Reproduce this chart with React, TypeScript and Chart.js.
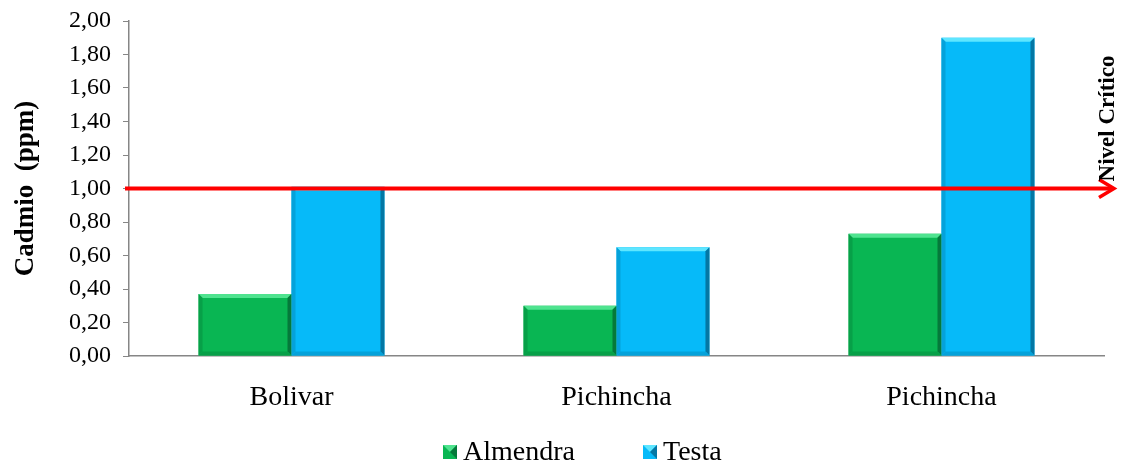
import React, { useEffect, useRef } from "react";
import { Chart, registerables } from "chart.js";

Chart.register(...registerables);

const categories = ["Bolivar", "Pichincha", "Pichincha"];
const almendra = [0.37, 0.3, 0.73];
const testa = [1.01, 0.65, 1.9];
const seriesNames = ["Almendra", "Testa"];
const criticalLevel = 1.0;
const criticalLabel = "Nivel Crítico";
const yTitle = "Cadmio  (ppm)";

const FONT = "'Liberation Serif', 'Times New Roman', serif";

const palette = [
  { face: "#09b653", light: "#4fe38f", dark: "#05793a", side: "#07a048" },
  { face: "#06baf9", light: "#5ee6ff", dark: "#0477a4", side: "#05a2da" },
];

const bevelPlugin = {
  id: "bevel",
  afterDatasetsDraw(chart: any) {
    const ctx = chart.ctx;
    chart.data.datasets.forEach((_ds: any, di: number) => {
      const meta = chart.getDatasetMeta(di);
      const c = palette[di];
      meta.data.forEach((bar: any) => {
        const w = bar.width;
        const l = bar.x - w / 2;
        const r = bar.x + w / 2;
        const t = bar.y;
        const b = bar.base;
        const s = 4;
        ctx.save();
        ctx.fillStyle = c.light;
        ctx.beginPath();
        ctx.moveTo(l, t);
        ctx.lineTo(r, t);
        ctx.lineTo(r - s, t + s);
        ctx.lineTo(l + s, t + s);
        ctx.closePath();
        ctx.fill();
        ctx.fillStyle = c.dark;
        ctx.beginPath();
        ctx.moveTo(r, t);
        ctx.lineTo(r, b);
        ctx.lineTo(r - s, b - s);
        ctx.lineTo(r - s, t + s);
        ctx.closePath();
        ctx.fill();
        ctx.fillStyle = c.side;
        ctx.beginPath();
        ctx.moveTo(l, t);
        ctx.lineTo(l + s, t + s);
        ctx.lineTo(l + s, b - s);
        ctx.lineTo(l, b);
        ctx.closePath();
        ctx.fill();
        ctx.fillStyle = c.side;
        ctx.beginPath();
        ctx.moveTo(l, b);
        ctx.lineTo(l + s, b - s);
        ctx.lineTo(r - s, b - s);
        ctx.lineTo(r, b);
        ctx.closePath();
        ctx.fill();
        ctx.restore();
      });
    });
  },
};

const criticalPlugin = {
  id: "critical",
  afterDraw(chart: any) {
    const ctx = chart.ctx;
    const y = chart.scales.y.getPixelForValue(criticalLevel);
    const x0 = chart.chartArea.left - 4;
    const x1 = chart.chartArea.right + 10;
    ctx.save();
    ctx.strokeStyle = "#ff0000";
    ctx.lineWidth = 4;
    ctx.lineCap = "butt";
    ctx.beginPath();
    ctx.moveTo(x0, y);
    ctx.lineTo(x1 - 2, y);
    ctx.stroke();
    ctx.lineJoin = "miter";
    ctx.lineWidth = 3.5;
    ctx.beginPath();
    ctx.moveTo(x1 - 15, y - 9);
    ctx.lineTo(x1, y);
    ctx.lineTo(x1 - 15, y + 9);
    ctx.stroke();
    ctx.translate(chart.chartArea.right + 4, y - 70);
    ctx.rotate(-Math.PI / 2);
    ctx.fillStyle = "#000";
    ctx.font = `bold 23px ${FONT}`;
    ctx.textAlign = "center";
    ctx.textBaseline = "middle";
    ctx.fillText(criticalLabel, 0, 0);
    ctx.restore();
  },
};

const legendPlugin = {
  id: "customLegend",
  afterDraw(chart: any) {
    const ctx = chart.ctx;
    const xs = [443, 643];
    const y = 452;
    ctx.save();
    ctx.font = `28px ${FONT}`;
    ctx.textBaseline = "middle";
    ctx.textAlign = "left";
    seriesNames.forEach((name, i) => {
      const c = palette[i];
      const x = xs[i];
      const sz = 14;
      ctx.fillStyle = c.face;
      ctx.fillRect(x, y - sz / 2, sz, sz);
      ctx.fillStyle = c.light;
      ctx.beginPath();
      ctx.moveTo(x, y - sz / 2);
      ctx.lineTo(x + sz, y - sz / 2);
      ctx.lineTo(x + sz / 2, y);
      ctx.closePath();
      ctx.fill();
      ctx.fillStyle = c.dark;
      ctx.beginPath();
      ctx.moveTo(x + sz, y - sz / 2);
      ctx.lineTo(x + sz, y + sz / 2);
      ctx.lineTo(x + sz / 2, y);
      ctx.closePath();
      ctx.fill();
      ctx.fillStyle = "#000";
      ctx.fillText(name, x + 20, y + 1);
    });
    ctx.restore();
  },
};

export default function App() {
  const ref = useRef<HTMLCanvasElement>(null);

  useEffect(() => {
    if (!ref.current) return;
    const chart = new Chart(ref.current, {
      type: "bar",
      data: {
        labels: categories,
        datasets: [
          {
            label: seriesNames[0],
            data: almendra,
            backgroundColor: palette[0].face,
            borderWidth: 0,
          },
          {
            label: seriesNames[1],
            data: testa,
            backgroundColor: palette[1].face,
            borderWidth: 0,
          },
        ],
      },
      options: {
        responsive: false,
        animation: false,
        layout: { padding: { top: 21, right: 17, left: 0, bottom: 0 } },
        datasets: {
          bar: { categoryPercentage: 0.572, barPercentage: 1.0 },
        },
        plugins: {
          legend: { display: false },
          tooltip: { enabled: false },
        },
        scales: {
          x: {
            grid: { display: false, drawTicks: false },
            border: { display: true, color: "#868686", width: 1.5 },
            ticks: {
              color: "#000",
              font: { family: FONT, size: 28 },
              padding: 25,
            },
            afterFit(scale: any) {
              scale.height = 108;
              scale.paddingLeft = 0;
              scale.paddingRight = 0;
            },
          },
          y: {
            min: 0,
            max: 2,
            grid: {
              display: true,
              drawOnChartArea: false,
              drawTicks: true,
              tickLength: 6,
              color: "#868686",
            },
            border: { display: true, color: "#868686", width: 1.5 },
            ticks: {
              stepSize: 0.2,
              color: "#000",
              font: { family: FONT, size: 24 },
              padding: 12,
              callback: (v: any) => Number(v).toFixed(2).replace(".", ","),
            },
            title: {
              display: true,
              text: yTitle,
              color: "#000",
              font: { family: FONT, size: 27, weight: "bold" },
              padding: { top: 10, bottom: 0 },
            },
            afterFit(scale: any) {
              scale.width = 129;
              scale.paddingTop = 0;
              scale.paddingBottom = 0;
            },
          },
        },
      },
      plugins: [bevelPlugin, criticalPlugin, legendPlugin],
    });
    return () => chart.destroy();
  }, []);

  return (
    <div style={{ position: "fixed", left: 0, top: 0, width: 1121, height: 464, background: "#fff" }}>
      <canvas ref={ref} width={1121} height={464} style={{ display: "block" }} />
    </div>
  );
}
